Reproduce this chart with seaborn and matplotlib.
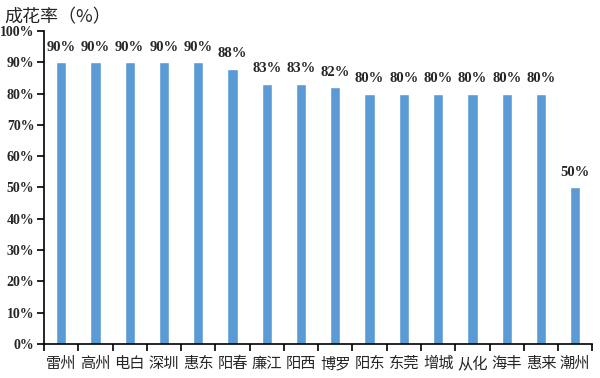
import numpy as np
import pandas as pd
import matplotlib
matplotlib.use("Agg")
import matplotlib.pyplot as plt
import seaborn as sns
from matplotlib.ticker import FixedLocator

# Data
regions = ['雷州', '高州', '电白', '深圳', '惠东', '阳春', '廉江', '阳西',
           '博罗', '阳东', '东莞', '增城', '从化', '海丰', '惠来', '潮州']
rates = [90, 90, 90, 90, 90, 88, 83, 83, 82, 80, 80, 80, 80, 80, 80, 50]
y_ticks = list(range(0, 101, 10))

sns.set_theme(style='white')
plt.rcParams['font.family'] = ['Noto Sans CJK SC', 'DejaVu Sans']

df = pd.DataFrame({'region': regions, 'rate': rates})

fig = plt.figure(figsize=(6, 3.78), dpi=100)
ax = fig.add_axes([0.0733, 0.09, 0.914, 0.828])

sns.barplot(data=df, x='region', y='rate', color='#5B9BD5', width=0.3,
            saturation=1, ax=ax)

num_font = dict(family=['Liberation Serif', 'DejaVu Serif'], weight='bold', size=10.5)

for i, v in enumerate(rates):
    ax.text(i, v + 2.8, f'{v}%', ha='center', va='bottom', **num_font)

ax.set_xlim(-0.5, len(regions) - 0.5)
ax.set_ylim(0, 100)
ax.set_yticks(y_ticks)
ax.set_yticklabels([f'{t}%' for t in y_ticks],
                   family=['Liberation Serif', 'DejaVu Serif'], weight='bold', size=10)
ax.set_xticks(range(len(regions)))
ax.set_xticklabels(regions, fontsize=11)
ax.set_xlabel('')
ax.set_ylabel('')
ax.tick_params(axis='x', which='major', length=0, pad=8)
ax.xaxis.set_minor_locator(FixedLocator(np.arange(-0.5, len(regions), 1)))
ax.tick_params(axis='x', which='minor', length=5, width=1.2, color='black', direction='out', bottom=True)
ax.tick_params(axis='y', length=5, width=1.2, color='black', direction='out', left=True, pad=2)

for s in ['top', 'right']:
    ax.spines[s].set_visible(False)
for s in ['left', 'bottom']:
    ax.spines[s].set_color('black')
    ax.spines[s].set_linewidth(1.2)

fig.text(0.008, 0.978, '成花率（%）', ha='left', va='top', fontsize=13)

fig.savefig('out.png', dpi=100)
